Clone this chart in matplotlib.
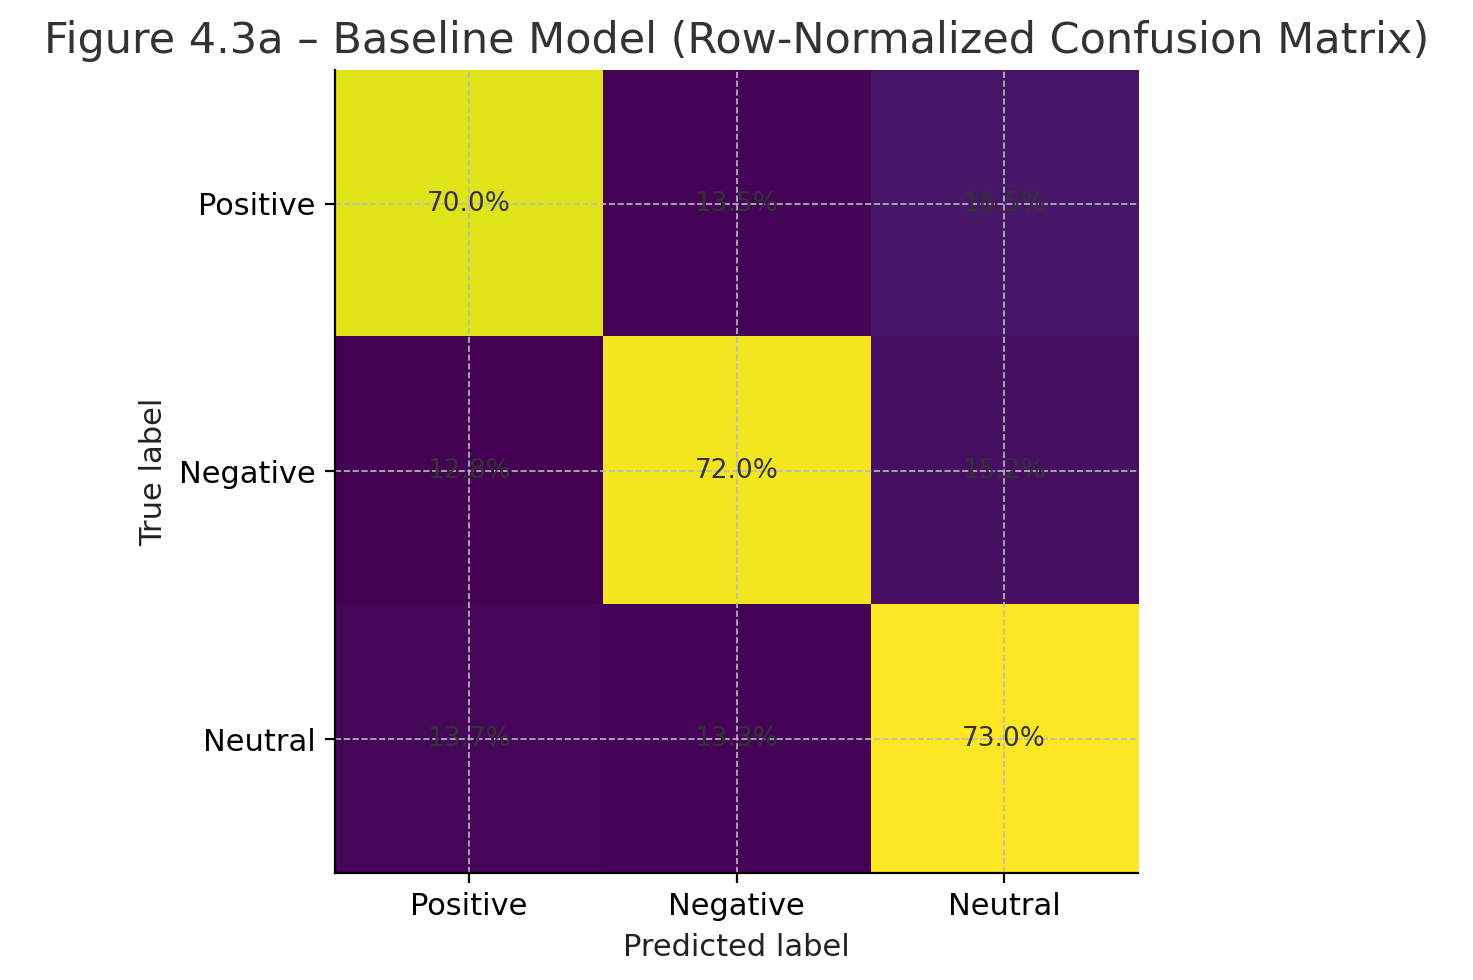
import matplotlib.pyplot as plt
import numpy as np

labels = ["Positive", "Negative", "Neutral"]
cm = np.array([[70.0, 13.5, 16.5],
               [12.8, 72.0, 15.2],
               [13.7, 13.3, 73.0]])

fig = plt.figure(figsize=(7.365, 4.9), dpi=200)
ax = fig.add_axes([0.2274, 0.1092, 0.5452, 0.8194])
ax.imshow(cm, cmap="viridis", aspect="auto")

for i in range(3):
    for j in range(3):
        ax.text(j, i, f"{cm[i, j]:.1f}%", ha="center", va="center",
                color="#333333", fontsize=9.5)

ax.set_xticks(range(3))
ax.set_xticklabels(labels, fontsize=11)
ax.set_yticks(range(3))
ax.set_yticklabels(labels, fontsize=11)
ax.set_xlabel("Predicted label", fontsize=11, color="#222222")
ax.set_ylabel("True label", fontsize=11, color="#222222")
ax.grid(True, linestyle="--", color="#bbbbbb", linewidth=0.6)
for s in ("top", "right"):
    ax.spines[s].set_visible(False)
ax.set_title("Figure 4.3a – Baseline Model (Row-Normalized Confusion Matrix)",
             fontsize=15.5, color="#333333", pad=6)

fig.savefig("out.png", dpi=200)
